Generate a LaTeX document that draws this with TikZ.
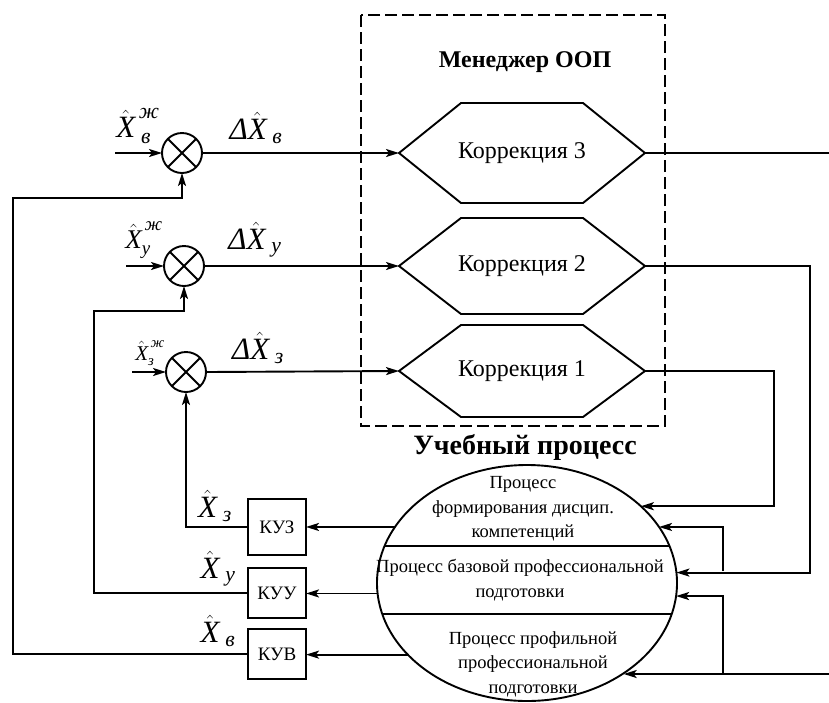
\documentclass[tikz,border=0pt]{standalone}
\usepackage{amsmath}
\usepackage{fontspec}
\setmainfont{Liberation Serif}
\usetikzlibrary{arrows.meta,shapes.geometric}

\newcommand{\Xh}{\hat{\text{\itshape X}}}
\newcommand{\cyr}[1]{\text{\itshape #1}}

\tikzset{
  arr/.style={-{Stealth[length=13pt,width=8pt,inset=3pt]}},
  sumnode/.style={circle,draw,minimum size=40pt,inner sep=0pt,outer sep=0pt},
  korr/.style={inner sep=0pt,outer sep=0pt,minimum width=246pt,font=\fontsize{24}{27}\selectfont},
  kubox/.style={draw,minimum width=58pt,inner sep=0pt,outer sep=0pt,font=\fontsize{19}{22}\selectfont},
  big/.style={inner sep=0pt,font=\fontsize{31}{34}\selectfont},
  ptext/.style={inner sep=0pt,align=center,font=\fontsize{18.5}{24.5}\selectfont},
}

\begin{document}
\begin{tikzpicture}[x=1pt,y=-1pt,line width=1.9pt]
\useasboundingbox (0,0) rectangle (829,702);

% Менеджер ООП
\draw[dash pattern=on 12pt off 5pt] (361,15) rectangle (665,426);
\node[font=\bfseries\fontsize{24}{28}\selectfont] (mgr) at (525,62) {Менеджер ООП};

\node[korr,minimum height=100pt] (k3) at (522,153) {Коррекция 3};
\node[korr,minimum height=96pt] (k2) at (522,266) {Коррекция 2};
\node[korr,minimum height=92pt] (k1) at (522,371) {Коррекция 1};
\foreach \k in {k1,k2,k3}
  \draw (\k.west) -- ([xshift=62pt]\k.north west) -- ([xshift=-62pt]\k.north east)
    -- (\k.east) -- ([xshift=-62pt]\k.south east) -- ([xshift=62pt]\k.south west) -- cycle;

% сумматоры
\node[sumnode] (s1) at (182,153) {};
\node[sumnode] (s2) at (184,266) {};
\node[sumnode] (s3) at (186,372) {};
\foreach \s in {s1,s2,s3}
  \draw (\s.north west) -- (\s.south east) (\s.north east) -- (\s.south west);

\coordinate (in1) at (115,153);
\coordinate (in2) at (126,266);
\coordinate (in3) at (132,372);
\draw[arr] (in1) -- (s1.west);
\draw[arr] (in2) -- (s2.west);
\draw[arr] (in3) -- (s3.west);
\draw[arr] (s1.east) -- (k3.west);
\draw[arr] (s2.east) -- (k2.west);
\draw[arr] (s3.east) -- (k1.west);

\node[big] (lx1) at (138,126) {$\Xh^{\,\cyr{ж}}_{\;\cyr{в}}$};
\node[big] (ld1) at (256,128) {\textit{Δ}$\Xh_{\;\cyr{в}}$};
\node[inner sep=0pt,font=\fontsize{27}{30}\selectfont] (lx2) at (144,240) {$\Xh^{\,\cyr{ж}}_{\cyr{у}}$};
\node[big] (ld2) at (255,240) {\textit{Δ}$\Xh_{\;\cyr{у}}$};
\node[inner sep=0pt,font=\fontsize{21}{24}\selectfont] (lx3) at (150,353) {$\Xh^{\,\cyr{ж}}_{\cyr{з}}$};
\node[big] (ld3) at (258,348) {\textit{Δ}$\Xh_{\;\cyr{з}}$};

% Учебный процесс
\node[font=\bfseries\fontsize{28}{32}\selectfont] (uptitle) at (525,447) {Учебный процесс};
\node[ellipse,draw,minimum width=300pt,minimum height=236pt,inner sep=0pt,outer sep=0pt] (up) at (527,583) {};
\begin{scope}
  \clip (527,583) ellipse (150pt and 118pt);
  \draw (360,546) -- (700,546) (360,614) -- (700,614);
\end{scope}
\node[ptext] (p1) at (523,509) {Процесс\\формирования дисцип.\\компетенций};
\node[ptext] (p2) at (520,580) {Процесс базовой профессиональной\\подготовки};
\node[ptext] (p3) at (533,664) {Процесс профильной\\профессиональной\\подготовки};

% обратные связи
\node[kubox,minimum height=56pt] (kuz) at (277,527) {КУЗ};
\node[kubox,minimum height=50pt] (kuu) at (277,593) {КУУ};
\node[kubox,minimum height=50pt] (kuv) at (277,654) {КУВ};
\draw[arr] (up.157) -- (up.157 -| kuz.east);
\draw[arr] (up.184.2) -- (up.184.2 -| kuu.east);
\draw[arr] (up.211.2) -- (up.211.2 -| kuv.east);

\coordinate (fb2) at (94,311);
\coordinate (fb1) at (13,198);
\draw[arr] (kuz.west) -| (s3.south);
\draw[arr] (kuu.west) -| (fb2) -| (s2.south);
\draw[arr] (kuv.west) -| (fb1) -| (s1.south);

\node[big] (lz) at (215,506) {$\Xh_{\;\cyr{з}}$};
\node[big] (ly) at (218,569) {$\Xh_{\;\cyr{у}}$};
\node[big] (lv) at (218,631) {$\Xh_{\;\cyr{в}}$};

% справа
\coordinate (r3) at (829,153);
\coordinate (c2) at (810,266);
\coordinate (c1) at (774,371);
\coordinate (b2) at (723,571);
\coordinate (r0) at (829,674);
\coordinate (b0) at (723,674);
\draw (k3.east) -- (r3);
\draw[arr] (k2.east) -- (c2) |- (up.4.6);
\draw[arr] (b2) |- (up.23);
\draw[arr] (k1.east) -- (c1) |- (up.34.7);
\draw[arr] (r0) -- (up.-43.6 |- r0);
\draw[arr] (b0) |- (up.-5.76);
\end{tikzpicture}
\end{document}
